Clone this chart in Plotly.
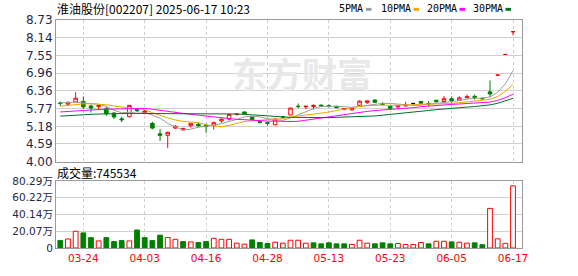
import plotly.graph_objects as go

# ---------------- data ----------------
dates = ["03-19", "03-20", "03-21", "03-24", "03-25", "03-26", "03-27", "03-28", "03-31", "04-01",
         "04-02", "04-03", "04-07", "04-08", "04-09", "04-10", "04-11", "04-14", "04-15", "04-16",
         "04-17", "04-18", "04-21", "04-22", "04-23", "04-24", "04-25", "04-28", "04-29", "04-30",
         "05-06", "05-07", "05-08", "05-09", "05-12", "05-13", "05-14", "05-15", "05-16", "05-19",
         "05-20", "05-21", "05-22", "05-23", "05-26", "05-27", "05-28", "05-29", "05-30", "06-03",
         "06-04", "06-05", "06-06", "06-09", "06-10", "06-11", "06-12", "06-13", "06-16", "06-17"]

opens = [5.96, 5.92, 5.99, 6.01, 5.86, 5.84, 5.77, 5.62, 5.43, 5.50,
         5.74, 5.64, 5.28, 4.93, 4.88, 5.12, 5.06, 5.20, 5.25, 5.22,
         5.21, 5.36, 5.42, 5.57, 5.66, 5.49, 5.33, 5.30, 5.23, 5.50,
         5.56, 5.85, 5.83, 5.84, 5.89, 5.87, 5.85, 5.74, 5.73, 5.88,
         5.97, 6.06, 5.94, 5.85, 5.83, 5.86, 5.94, 6.01, 5.94, 6.05,
         6.01, 6.10, 6.05, 6.13, 6.18, 6.12, 6.33, 6.89, 7.58, 8.34]
highs = [6.01, 6.01, 6.32, 6.18, 5.90, 5.89, 5.83, 5.66, 5.50, 5.89,
         5.77, 5.72, 5.33, 5.09, 5.00, 5.22, 5.13, 5.29, 5.30, 5.27,
         5.34, 5.44, 5.60, 5.61, 5.67, 5.52, 5.38, 5.33, 5.45, 5.53,
         5.80, 5.94, 5.86, 5.91, 5.90, 5.91, 5.86, 5.78, 5.80, 6.05,
         6.04, 6.07, 5.98, 5.87, 5.89, 6.00, 5.97, 6.02, 6.02, 6.06,
         6.19, 6.18, 6.18, 6.24, 6.24, 6.14, 6.71, 6.89, 7.58, 8.34]
lows = [5.86, 5.88, 5.99, 5.75, 5.64, 5.73, 5.53, 5.43, 5.32, 5.48,
        5.66, 5.58, 5.08, 4.69, 4.45, 5.10, 5.04, 5.14, 5.15, 4.96,
        5.07, 5.30, 5.37, 5.55, 5.58, 5.38, 5.27, 5.20, 5.22, 5.46,
        5.55, 5.78, 5.75, 5.74, 5.82, 5.80, 5.79, 5.72, 5.71, 5.86,
        5.93, 5.96, 5.88, 5.75, 5.77, 5.85, 5.91, 5.93, 5.83, 5.98,
        5.94, 5.95, 6.04, 6.13, 6.07, 6.06, 6.15, 6.89, 7.58, 8.22]
closes = [5.94, 5.98, 6.12, 5.83, 5.79, 5.87, 5.60, 5.49, 5.40, 5.88,
          5.70, 5.69, 5.12, 4.88, 4.98, 5.18, 5.11, 5.28, 5.20, 5.17,
          5.30, 5.42, 5.58, 5.59, 5.60, 5.40, 5.31, 5.28, 5.42, 5.49,
          5.79, 5.84, 5.85, 5.88, 5.86, 5.85, 5.80, 5.77, 5.79, 6.02,
          6.03, 5.98, 5.91, 5.78, 5.87, 5.89, 5.94, 5.95, 5.92, 6.00,
          6.10, 6.04, 6.13, 6.17, 6.15, 6.10, 6.26, 6.89, 7.58, 8.34]

# volume in 万 shares
volumes = [8.9, 10.8, 20.1, 18.1, 12.4, 8.5, 12.4, 7.7, 8.9, 8.5,
           21.6, 12.4, 8.9, 15.4, 12.7, 10.4, 7.7, 7.3, 6.6, 7.7,
           11.6, 10.4, 10.4, 5.8, 4.6, 9.7, 6.6, 5.4, 6.9, 5.8,
           9.3, 9.3, 5.8, 6.2, 5.0, 6.2, 5.0, 5.0, 4.2, 9.3,
           5.8, 5.0, 6.2, 5.0, 5.4, 4.2, 4.2, 6.6, 5.0, 8.1,
           8.1, 7.3, 6.9, 5.8, 6.2, 3.9, 47.5, 11.0, 5.6, 74.5534]
# 1 = red (up), 0 = green (down)
vol_up = [0, 1, 1, 0, 0, 1, 0, 0, 0, 1,
          0, 0, 0, 0, 1, 1, 0, 1, 0, 0,
          1, 1, 1, 1, 1, 0, 0, 0, 1, 1,
          1, 1, 1, 0, 0, 0, 0, 0, 1, 1,
          1, 0, 0, 0, 1, 1, 1, 1, 0, 1,
          1, 0, 1, 1, 0, 0, 1, 1, 1, 1]

# moving-average values before a full window exists
ma5_head = [5.96, 5.97, 5.99, 5.96]
ma10_head = [5.85, 5.88, 5.91, 5.93, 5.93, 5.92, 5.90, 5.86, 5.82]
ma20_head = [5.66, 5.68, 5.70, 5.72, 5.73, 5.74, 5.75, 5.76, 5.77, 5.78,
             5.78, 5.78, 5.75, 5.71, 5.67, 5.64, 5.61, 5.58, 5.55]
ma30_head = [5.52, 5.54, 5.56, 5.57, 5.58, 5.59, 5.60, 5.60, 5.61, 5.61,
             5.61, 5.61, 5.61, 5.60, 5.60, 5.60, 5.60, 5.60, 5.60, 5.60,
             5.60, 5.60, 5.60, 5.59, 5.58, 5.57, 5.55, 5.53, 5.51]

price_tick_labels = ["4.00", "4.59", "5.18", "5.77", "6.36", "6.96", "7.55", "8.14", "8.73"]
vol_tick_values = [0, 20.07, 40.14, 60.22, 80.29]
vol_tick_labels = ["0", "20.07万", "40.14万", "60.22万", "80.29万"]
date_ticks = ["03-24", "04-03", "04-16", "04-28", "05-13", "05-23", "06-05", "06-17"]

title_text = "淮油股份[002207] 2025-06-17 10:23"
vol_title = "成交量:745534"
watermark = "东方财富"
ma_names = ["5PMA", "10PMA", "20PMA", "30PMA"]
ma_colors = ["#9a9a9a", "#f0a500", "#ff00ff", "#006f2e"]

# ---------------- derived ----------------
n = len(closes)
xs = list(range(n))


def moving_avg(win, head):
    out = list(head)
    for i in range(win - 1, n):
        out.append(sum(closes[i - win + 1:i + 1]) / win)
    return out


mas = [moving_avg(5, ma5_head), moving_avg(10, ma10_head),
       moving_avg(20, ma20_head), moving_avg(30, ma30_head)]

RED = "#ff0000"
GREEN = "#008000"
W, H = 578, 276
L, R, T, B = 56, 522, 20, 255


def px(xp):
    return (xp - L) / (R - L)


def py(yp):
    return (B - yp) / (B - T)


fig = go.Figure()

# watermark (bottom-most trace)
fig.add_trace(go.Scatter(x=[31.5], y=[6.74], mode="text", text=["<b>" + watermark + "</b>"],
                         textfont=dict(family="Noto Sans CJK SC", size=35, color="#e8e8e8"),
                         hoverinfo="skip", showlegend=False, xaxis="x", yaxis="y"))

# doji: open == close with shadows on both sides (drawn black)
doji = [i for i in xs if opens[i] == closes[i] and highs[i] > closes[i] and lows[i] < closes[i]]
normal = [i for i in xs if i not in doji]

fig.add_trace(go.Candlestick(
    x=normal, open=[opens[i] for i in normal], high=[highs[i] for i in normal],
    low=[lows[i] for i in normal], close=[closes[i] for i in normal],
    increasing=dict(line=dict(color=RED, width=1), fillcolor="#ffffff"),
    decreasing=dict(line=dict(color=GREEN, width=1), fillcolor=GREEN),
    whiskerwidth=0, showlegend=False, hoverinfo="skip", xaxis="x", yaxis="y"))
fig.add_trace(go.Candlestick(
    x=doji, open=[opens[i] for i in doji], high=[highs[i] for i in doji],
    low=[lows[i] for i in doji], close=[closes[i] for i in doji],
    increasing=dict(line=dict(color="#000000", width=1), fillcolor="#000000"),
    decreasing=dict(line=dict(color="#000000", width=1), fillcolor="#000000"),
    whiskerwidth=0, showlegend=False, hoverinfo="skip", xaxis="x", yaxis="y"))

for vals, col in zip(mas, ma_colors):
    fig.add_trace(go.Scatter(x=xs, y=vals, mode="lines", line=dict(color=col, width=1),
                             showlegend=False, hoverinfo="skip", xaxis="x", yaxis="y"))

fig.add_trace(go.Bar(
    x=xs, y=volumes, width=0.62,
    marker=dict(color=["#ffffff" if u else GREEN for u in vol_up],
                line=dict(color=[RED if u else GREEN for u in vol_up], width=1)),
    showlegend=False, hoverinfo="skip", xaxis="x2", yaxis="y2"))

tick_idx = [dates.index(d) for d in date_ticks]
xrange_ = [-0.56, 60.17]
grid_x = dict(showgrid=True, gridcolor="#cfcfcf", griddash="3px,3px", gridwidth=1,
              zeroline=False, showline=True, linecolor="#9a9a9a", linewidth=1, mirror=True,
              tickmode="array", tickvals=tick_idx, range=xrange_, fixedrange=True,
              rangeslider=dict(visible=False))

fig.update_layout(
    width=W, height=H, margin=dict(l=L, r=W - R, t=T, b=H - B),
    paper_bgcolor="#ffffff", plot_bgcolor="#ffffff",
    boxgap=0.34, bargap=0.3, showlegend=False,
    xaxis=dict(domain=[0, 1], anchor="y", showticklabels=False, ticks="", **grid_x),
    xaxis2=dict(domain=[0, 1], anchor="y2", ticktext=date_ticks, ticks="",
                tickfont=dict(family="DejaVu Sans", size=10.5, color=RED), **grid_x),
    yaxis=dict(domain=[py(166), 1], anchor="x", range=[4.00, 8.73],
               tickmode="array", tickvals=[float(v) for v in price_tick_labels],
               ticktext=price_tick_labels, ticks="",
               tickfont=dict(family="DejaVu Sans", size=12, color="#1e2a48"),
               showgrid=True, gridcolor="#d0d0d0", gridwidth=1, zeroline=False,
               showline=True, linecolor="#9a9a9a", linewidth=1, mirror=True, fixedrange=True),
    yaxis2=dict(domain=[0, py(186)], anchor="x2", range=[0, 80.29],
                tickmode="array", tickvals=vol_tick_values, ticktext=vol_tick_labels, ticks="",
                tickfont=dict(family="DejaVu Sans, Noto Sans CJK SC", size=10.5, color="#1e2a48"),
                showgrid=True, gridcolor="#d0d0d0", gridwidth=1, zeroline=False,
                showline=True, linecolor="#9a9a9a", linewidth=1, mirror=True, fixedrange=True),
)

annotations = [
    dict(x=px(55), y=py(8.5), xref="paper", yref="paper", text=title_text, showarrow=False,
         xanchor="left", yanchor="middle",
         font=dict(family="Noto Sans CJK SC", size=12, color="#000000")),
    dict(x=px(55), y=py(177), xref="paper", yref="paper", text=vol_title, showarrow=False,
         xanchor="left", yanchor="middle",
         font=dict(family="Noto Sans CJK SC", size=12, color="#000000")),
]
legend_text_x = [337, 379, 425, 471]
legend_box_x = [366, 413.5, 459.5, 505.5]
shapes = []
for name, col, tx, bx in zip(ma_names, ma_colors, legend_text_x, legend_box_x):
    annotations.append(dict(x=px(tx), y=py(8.5), xref="paper", yref="paper", text=name,
                            showarrow=False, xanchor="left", yanchor="middle",
                            font=dict(family="DejaVu Sans Mono", size=10, color="#000000")))
    shapes.append(dict(type="rect", xref="paper", yref="paper",
                       x0=px(bx), x1=px(bx + 5.5), y0=py(10.5), y1=py(7.5),
                       fillcolor=col, line=dict(width=0)))
fig.update_layout(annotations=annotations, shapes=shapes)

fig.write_html("out.html")
